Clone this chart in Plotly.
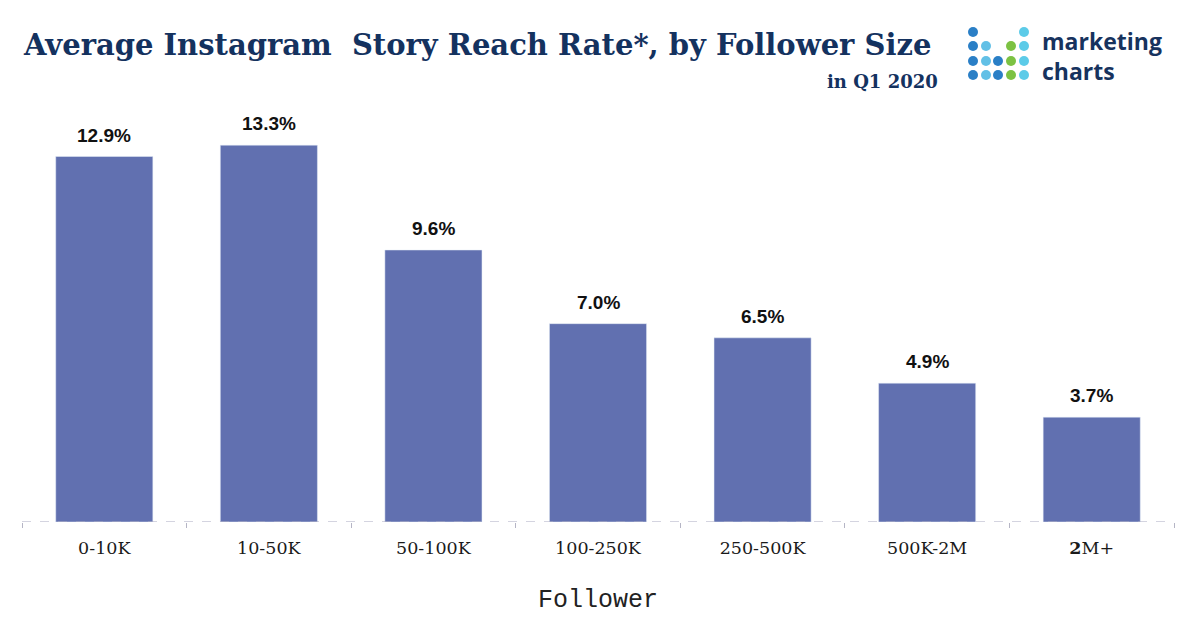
import plotly.graph_objects as go

followers = ["0-10K", "10-50K", "50-100K", "100-250K", "250-500K", "500K-2M", "2M+"]
tick_labels = ["0-10K", "10-50K", "50-100K", "100-250K", "250-500K", "500K-2M", "<b>2</b>M+"]
reach_rate = [12.9, 13.3, 9.6, 7.0, 6.5, 4.9, 3.7]

# page has an 8px body margin, so the figure is a bit smaller than the window
OFF = 8
W, H = 1200 - 2 * OFF, 629 - 2 * OFF
L, T = 22 - OFF, 97 - OFF
R = W - (1174 - OFF)
B = H - (522 - OFF)
plot_w = W - L - R
plot_h = H - T - B


def px_x(x):
    # page pixel -> paper
    return (x - OFF - L) / plot_w


def px_y(y):
    return (H - B - (y - OFF)) / plot_h


fig = go.Figure()
fig.add_trace(go.Bar(
    x=followers,
    y=reach_rate,
    marker={"color": "#6170b0"},
    hoverinfo="skip",
))

# value labels sit a little higher above the bars than plotly's outside text
for cat, val in zip(followers, reach_rate):
    fig.add_annotation(x=cat, y=val, text=f"<b>{val:.1f}%</b>", showarrow=False,
                       yanchor="bottom", yshift=9,
                       font={"family": "Liberation Sans", "size": 19, "color": "#111111"})

fig.update_layout(
    width=W, height=H,
    margin=go.layout.Margin(l=L, r=R, t=T, b=B),
    plot_bgcolor="white", paper_bgcolor="white",
    bargap=0.41,
    showlegend=False,
)
fig.update_xaxes(
    tickmode="array", tickvals=followers, ticktext=tick_labels,
    tickson="boundaries", ticks="outside", ticklen=5, tickcolor="#b5b5c5",
    tickfont={"family": "DejaVu Serif", "size": 17.5, "color": "#1a1a1a"},
    ticklabelstandoff=13,
    showline=False, showgrid=False,
    title={"text": "Follower", "font": {"family": "Liberation Mono", "size": 25, "color": "#222222"},
           "standoff": 32},
)
fig.update_yaxes(range=[0, 15], visible=False, showgrid=False)

# dashed baseline
fig.add_shape(type="line", xref="paper", yref="y", x0=0, x1=1, y0=0, y1=0,
              line={"color": "#a8a8c0", "width": 1, "dash": "dash"})

# title and subtitle
fig.add_annotation(text="<b>Average Instagram  Story Reach Rate*, by Follower Size</b>",
                   xref="paper", yref="paper", x=px_x(21), y=px_y(45), xanchor="left", yanchor="middle",
                   showarrow=False, font={"family": "DejaVu Serif", "size": 29, "color": "#14325f"})
fig.add_annotation(text="<b>in Q1 2020</b>",
                   xref="paper", yref="paper", x=px_x(940), y=px_y(82), xanchor="right", yanchor="middle",
                   showarrow=False, font={"family": "DejaVu Serif", "size": 18, "color": "#14325f"})

# logo
blue, light, green, cyan = "#2a7fc6", "#62c0e6", "#7cc243", "#5ccbe8"
col_x = [973, 986, 998, 1011, 1024]
row_y = [32, 46, 61, 75]
dots = [
    [blue, None, None, None, cyan],
    [blue, light, None, green, cyan],
    [blue, light, blue, green, cyan],
    [blue, light, blue, green, cyan],
]
for r, row in enumerate(dots):
    for c, color in enumerate(row):
        if color is None:
            continue
        fig.add_shape(type="circle", xref="paper", yref="paper",
                      xsizemode="pixel", ysizemode="pixel",
                      xanchor=px_x(col_x[c]), yanchor=px_y(row_y[r]),
                      x0=-5, x1=5, y0=-5, y1=5,
                      fillcolor=color, line={"width": 0})
fig.add_annotation(text="<b>marketing<br>charts</b>",
                   xref="paper", yref="paper", x=px_x(1040), y=px_y(56), xanchor="left", yanchor="middle",
                   align="left", showarrow=False,
                   font={"family": "Open Sans", "size": 23, "color": "#17335e"})

fig.write_html("out.html")
